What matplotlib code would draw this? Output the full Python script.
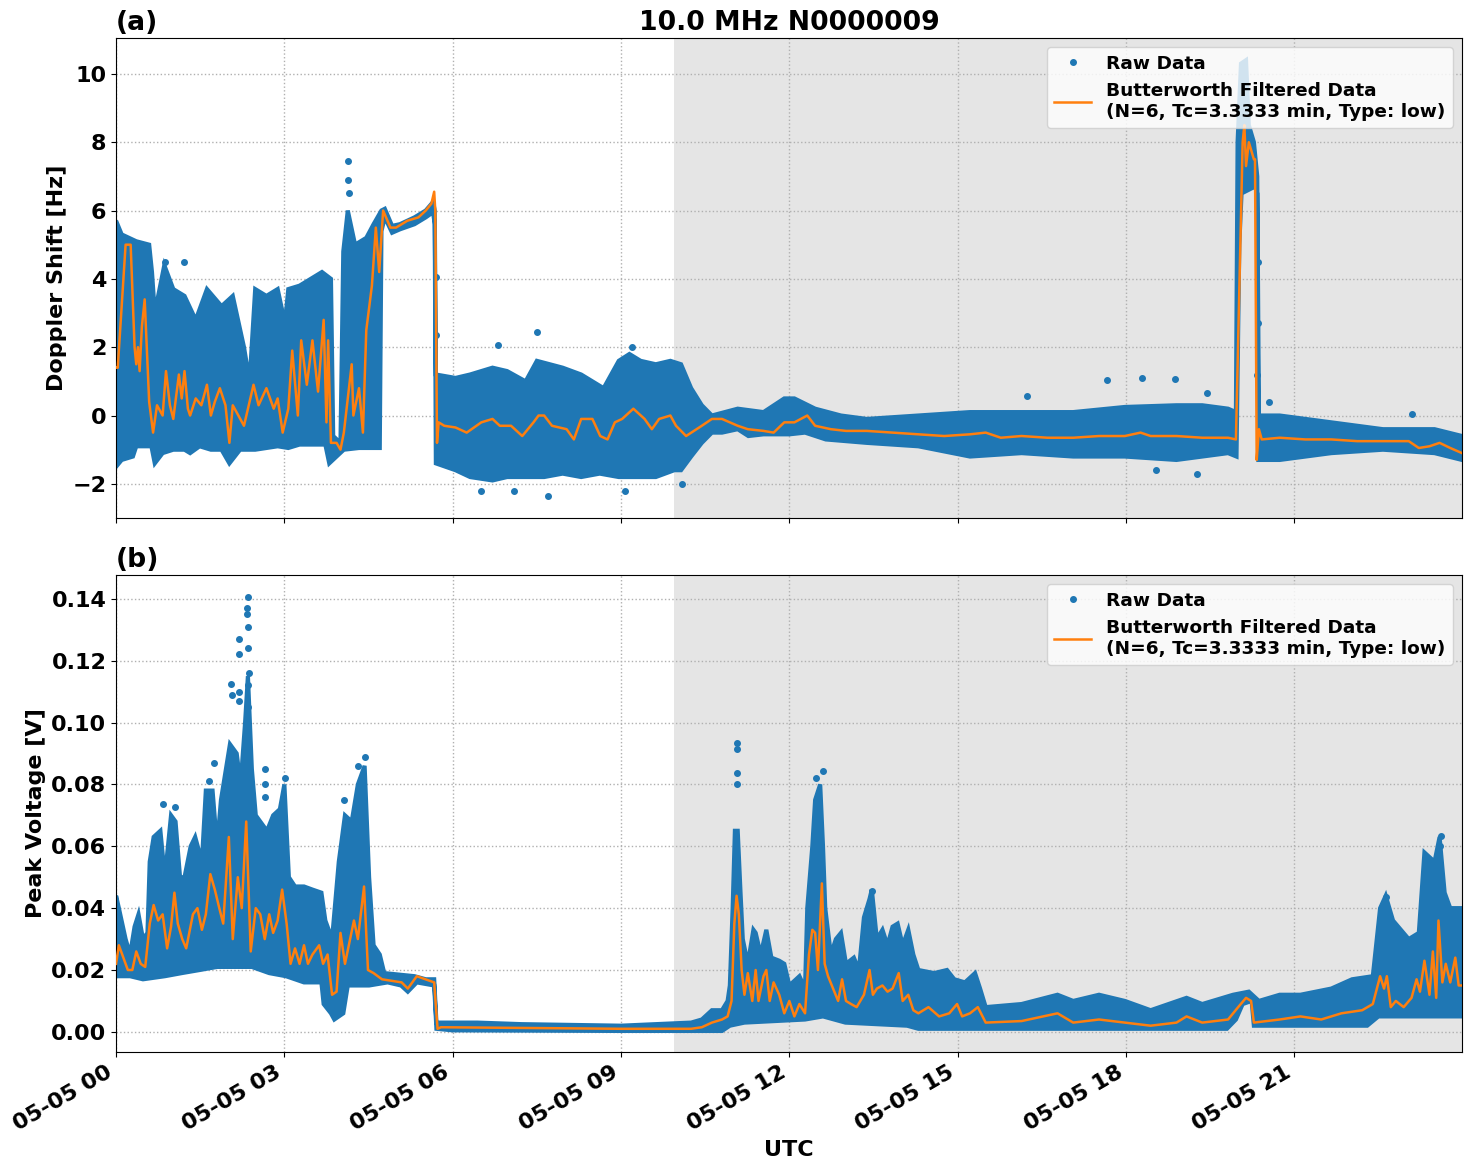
import numpy as np
import matplotlib
matplotlib.use('Agg')
from matplotlib import pyplot as plt
import matplotlib.dates as mdates
from datetime import datetime

plt.rcParams['font.size'] = 16
plt.rcParams['font.weight'] = 'bold'
plt.rcParams['axes.labelweight'] = 'bold'
plt.rcParams['axes.titleweight'] = 'bold'

# hours after 2024-05-05 00:00 UTC
# --- (a) Doppler shift [Hz] ---
dop_hi_t = [0.00, 0.10, 0.36, 0.59, 0.64, 0.69, 0.86, 1.02, 1.22, 1.42, 1.62, 1.88, 2.08, 2.28, 2.38,
            2.48, 2.68, 2.88, 3.01, 3.07, 3.27, 3.47, 3.67, 3.83, 3.87, 4.00, 4.05, 4.13, 4.26, 4.46,
            4.59, 4.73, 4.79, 4.92, 5.06, 5.32, 5.52, 5.65, 5.68, 5.70, 6.05, 6.31, 6.71, 6.97, 7.30,
            7.50, 7.96, 8.29, 8.49, 8.69, 8.96, 9.15, 9.35, 9.62, 9.88, 10.07, 10.25, 10.44, 10.62,
            11.08, 11.54, 11.91, 12.09, 12.46, 12.92, 13.38, 14.30, 15.22, 16.14, 17.06, 17.98, 18.90,
            19.36, 19.82, 19.96, 19.99, 20.05, 20.14, 20.19, 20.28, 20.34, 20.37, 20.74, 21.66, 22.58,
            23.50, 23.99]
dop_hi = [5.7, 5.3, 5.1, 5.0, 4.2, 3.0, 4.4, 3.7, 3.5, 2.8, 3.7, 3.2, 3.5, 2.0, 1.0,
          3.7, 3.5, 3.7, 2.7, 3.7, 3.8, 4.0, 4.2, 4.0, -0.6, -0.8, 4.8, 6.0, 5.0, 5.2,
          5.6, 6.0, 6.05, 5.55, 5.6, 5.8, 6.0, 6.25, 6.0, 1.2, 1.1, 1.2, 1.4, 1.3, 1.0,
          1.6, 1.4, 1.2, 1.0, 0.8, 1.6, 1.8, 1.6, 1.5, 1.6, 1.5, 0.8, 0.3, 0.0,
          0.2, 0.1, 0.5, 0.5, 0.2, 0.0, -0.1, 0.0, 0.1, 0.1, 0.1, 0.25, 0.3,
          0.3, 0.2, 0.1, 8.0, 10.3, 10.4, 8.5, 8.0, 7.0, 0.0, 0.0, -0.2, -0.4,
          -0.4, -0.6]
dop_lo_t = [0.00, 0.10, 0.30, 0.36, 0.63, 0.69, 0.83, 1.02, 1.22, 1.32, 1.49, 1.69, 1.88, 2.02, 2.21,
            2.48, 2.88, 3.07, 3.27, 3.73, 3.80, 3.93, 4.06, 4.33, 4.70, 4.73, 4.79, 4.92, 5.06, 5.32,
            5.52, 5.65, 5.68, 5.70, 6.05, 6.31, 6.71, 6.97, 7.63, 7.96, 8.29, 8.62, 8.96, 9.62, 9.95,
            10.07, 10.25, 10.44, 10.62, 10.80, 11.08, 11.27, 11.54, 12.00, 12.28, 12.65, 13.38, 14.30,
            15.22, 16.14, 17.06, 17.98, 18.90, 19.82, 19.97, 20.02, 20.06, 20.30, 20.34, 20.36, 20.74,
            21.66, 22.58, 23.50, 23.99]
dop_lo = [-1.5, -1.3, -1.2, -0.9, -0.9, -1.4, -1.1, -1.0, -1.0, -1.1, -0.9, -1.0, -1.0, -1.4, -1.0,
          -1.0, -0.9, -0.95, -0.85, -0.85, -1.4, -1.2, -1.0, -0.95, -0.95, 5.4, 5.8, 5.35, 5.45, 5.6,
          5.8, 5.95, 5.6, -1.4, -1.6, -1.8, -1.9, -1.8, -1.8, -1.7, -1.8, -1.7, -1.8, -1.8, -1.6,
          -1.6, -1.2, -0.8, -0.5, -0.5, -0.4, -0.6, -0.55, -0.55, -0.5, -0.7, -0.8, -0.9,
          -1.2, -1.1, -1.2, -1.2, -1.3, -1.1, -1.2, 5.0, 6.5, 6.7, 6.5, -1.3, -1.3,
          -1.1, -1.0, -1.1, -1.3]
dop_out_t = [4.14, 4.14, 4.15, 1.21, 0.88, 7.50, 7.70, 6.50, 7.10, 5.70, 5.70, 9.07, 6.80, 9.20,
             17.66, 18.28, 18.87, 19.45, 20.55, 23.10, 16.23, 18.53, 19.27, 10.09, 20.35, 20.35, 20.33]
dop_out = [7.45, 6.9, 6.5, 4.5, 4.5, 2.45, -2.35, -2.2, -2.2, 4.05, 2.35, -2.2, 2.05, 2.0,
           1.03, 1.1, 1.07, 0.66, 0.4, 0.03, 0.56, -1.6, -1.7, -2.0, 4.5, 2.7, 1.2]
dop_filt_t = [0.00, 0.03, 0.17, 0.26, 0.33, 0.36, 0.39, 0.42, 0.46, 0.51, 0.56, 0.59, 0.66, 0.73, 0.83,
              0.89, 0.96, 1.02, 1.12, 1.17, 1.22, 1.28, 1.32, 1.42, 1.52, 1.62, 1.69, 1.76, 1.85, 1.95,
              2.02, 2.08, 2.18, 2.28, 2.35, 2.45, 2.54, 2.68, 2.81, 2.88, 2.97, 3.07, 3.14, 3.24, 3.30,
              3.40, 3.50, 3.60, 3.70, 3.75, 3.78, 3.83, 3.93, 4.00, 4.06, 4.13, 4.20, 4.23, 4.33, 4.40,
              4.46, 4.56, 4.63, 4.69, 4.76, 4.89, 4.99, 5.19, 5.39, 5.52, 5.62, 5.67, 5.69, 5.72, 5.75,
              5.85, 6.05, 6.25, 6.51, 6.71, 6.84, 7.04, 7.24, 7.44, 7.53, 7.63, 7.77, 8.03, 8.16, 8.29,
              8.49, 8.63, 8.76, 8.89, 9.02, 9.22, 9.42, 9.55, 9.68, 9.88, 9.98, 10.16, 10.44, 10.62,
              10.80, 11.08, 11.26, 11.54, 11.72, 11.91, 12.09, 12.32, 12.46, 12.74, 13.01, 13.38, 13.84,
              14.30, 14.76, 15.22, 15.50, 15.77, 16.14, 16.60, 17.06, 17.52, 17.98, 18.26, 18.44, 18.90,
              19.36, 19.82, 19.96, 20.08, 20.11, 20.14, 20.19, 20.28, 20.30, 20.33, 20.37, 20.42, 20.74,
              21.20, 21.66, 22.12, 22.58, 23.04, 23.22, 23.41, 23.59, 23.78, 23.99]
dop_filt = [1.4, 1.4, 5.0, 5.0, 2.0, 1.5, 2.0, 1.3, 2.6, 3.4, 1.5, 0.4, -0.5, 0.3, 0.0,
            1.3, 0.3, -0.1, 1.2, 0.5, 1.3, 0.2, 0.0, 0.5, 0.3, 0.9, 0.0, 0.4, 0.8, 0.3,
            -0.8, 0.3, 0.0, -0.3, 0.2, 0.9, 0.3, 0.8, 0.2, 0.5, -0.5, 0.2, 1.9, 0.0, 2.2,
            0.9, 2.2, 0.7, 2.8, -0.2, 2.2, -0.8, -0.8, -1.0, -0.5, 0.5, 1.5, 0.0, 0.8, -0.5,
            2.5, 3.8, 5.5, 4.2, 6.0, 5.5, 5.5, 5.7, 5.8, 6.0, 6.2, 6.55, 6.0, -0.8, -0.2,
            -0.3, -0.35, -0.5, -0.2, -0.1, -0.3, -0.3, -0.6, -0.2, 0.0, 0.0, -0.3, -0.4, -0.7, -0.1,
            -0.1, -0.6, -0.7, -0.2, -0.1, 0.2, -0.1, -0.4, -0.1, 0.0, -0.3, -0.6, -0.3, -0.1,
            -0.1, -0.3, -0.4, -0.45, -0.5, -0.2, -0.2, 0.0, -0.3, -0.4, -0.45, -0.45, -0.5,
            -0.55, -0.6, -0.55, -0.5, -0.65, -0.6, -0.65, -0.65, -0.6, -0.6, -0.5, -0.6, -0.6,
            -0.65, -0.65, -0.7, 8.0, 8.5, 7.3, 8.0, 7.5, 7.5, -1.3, -0.4, -0.7, -0.65,
            -0.7, -0.7, -0.75, -0.75, -0.75, -0.95, -0.9, -0.8, -0.95, -1.1]

# --- (b) peak voltage [V] ---
vpk_hi_t = [0.00, 0.05, 0.17, 0.25, 0.33, 0.40, 0.48, 0.56, 0.60, 0.67, 0.79, 0.87, 0.98, 1.06, 1.14,
            1.22, 1.33, 1.41, 1.53, 1.60, 1.72, 1.80, 1.87, 2.03, 2.15, 2.22, 2.30, 2.35, 2.42, 2.49,
            2.57, 2.69, 2.80, 2.92, 3.00, 3.08, 3.19, 3.35, 3.50, 3.66, 3.73, 3.85, 3.97, 4.08, 4.20,
            4.31, 4.43, 4.51, 4.59, 4.70, 4.78, 5.32, 5.52, 5.67, 5.71, 6.44, 7.22, 9.00, 10.25, 10.44,
            10.62, 10.80, 10.90, 10.94, 10.99, 11.03, 11.08, 11.13, 11.17, 11.26, 11.36, 11.40, 11.49,
            11.59, 11.68, 11.82, 11.91, 12.00, 12.18, 12.28, 12.32, 12.41, 12.46, 12.55, 12.60, 12.64,
            12.74, 12.83, 12.92, 13.01, 13.15, 13.24, 13.33, 13.43, 13.47, 13.56, 13.66, 13.75, 13.84,
            13.93, 14.02, 14.12, 14.21, 14.30, 14.58, 14.81, 14.94, 15.13, 15.31, 15.40, 15.50, 16.14,
            16.78, 17.06, 17.52, 17.98, 18.44, 19.08, 19.36, 19.91, 20.19, 20.37, 20.74, 21.11, 21.66,
            22.03, 22.40, 22.53, 22.63, 22.76, 23.04, 23.22, 23.32, 23.50, 23.59, 23.68, 23.78, 23.99]
vpk_hi = [0.044, 0.040, 0.030, 0.025, 0.034, 0.038, 0.030, 0.032, 0.055, 0.063, 0.065, 0.050, 0.070, 0.068, 0.050,
          0.050, 0.060, 0.063, 0.055, 0.078, 0.078, 0.060, 0.075, 0.093, 0.090, 0.080, 0.100, 0.115, 0.085, 0.070,
          0.068, 0.065, 0.070, 0.072, 0.080, 0.050, 0.047, 0.047, 0.046, 0.045, 0.036, 0.030, 0.055, 0.070, 0.068,
          0.080, 0.086, 0.050, 0.028, 0.025, 0.019, 0.018, 0.017, 0.017, 0.003, 0.003, 0.0025, 0.002, 0.003, 0.004,
          0.007, 0.007, 0.010, 0.015, 0.040, 0.065, 0.065, 0.045, 0.030, 0.022, 0.033, 0.032, 0.025,
          0.033, 0.024, 0.023, 0.022, 0.015, 0.018, 0.014, 0.040, 0.060, 0.075, 0.080, 0.060, 0.040,
          0.025, 0.030, 0.032, 0.022, 0.024, 0.020, 0.037, 0.043, 0.046, 0.030, 0.033, 0.028, 0.034,
          0.035, 0.028, 0.033, 0.025, 0.020, 0.019, 0.020, 0.017, 0.016, 0.019, 0.014, 0.008, 0.009,
          0.012, 0.010, 0.012, 0.010, 0.007, 0.011, 0.009, 0.012, 0.013, 0.010, 0.012, 0.012, 0.014,
          0.017, 0.018, 0.040, 0.044, 0.036, 0.030, 0.032, 0.058, 0.055, 0.063, 0.045, 0.040, 0.040]
vpk_lo_t = [0.00, 0.25, 0.48, 0.87, 1.17, 1.49, 1.80, 2.42, 2.73, 3.03, 3.35, 3.66, 3.70, 3.83, 3.89,
            4.05, 4.13, 4.51, 4.84, 5.08, 5.20, 5.36, 5.67, 5.71, 6.00, 9.00, 10.80, 10.94, 11.20, 12.28,
            12.60, 13.00, 14.10, 14.30, 19.80, 19.96, 20.08, 20.24, 20.28, 22.30, 22.50, 23.99]
vpk_lo = [0.018, 0.018, 0.017, 0.018, 0.019, 0.020, 0.021, 0.021, 0.019, 0.018, 0.016, 0.016, 0.009, 0.006, 0.004,
          0.006, 0.015, 0.015, 0.016, 0.015, 0.013, 0.016, 0.015, 0.001, 0.0005, 0.0003, 0.0003, 0.002, 0.003, 0.004,
          0.005, 0.003, 0.002, 0.001, 0.001, 0.004, 0.009, 0.010, 0.002, 0.002, 0.005, 0.005]
vpk_out_t = [2.355, 2.34, 2.34, 2.36, 2.36, 2.37, 2.19, 2.20, 2.05, 2.06, 2.20, 2.20, 2.36, 2.36, 2.66,
             2.66, 2.66, 3.01, 1.75, 1.665, 0.83, 1.05, 4.43, 4.31, 4.07, 11.06, 11.06, 11.06, 11.06,
             12.60, 12.48, 13.47, 22.63, 23.61, 23.60, 23.36]
vpk_out = [0.1406, 0.137, 0.135, 0.131, 0.124, 0.116, 0.127, 0.122, 0.1126, 0.109, 0.110, 0.107, 0.112, 0.105, 0.085,
           0.080, 0.076, 0.082, 0.087, 0.081, 0.0737, 0.0726, 0.0887, 0.086, 0.075, 0.0935, 0.0914, 0.0837, 0.080,
           0.0844, 0.082, 0.0457, 0.0435, 0.0634, 0.060, 0.056]
vpk_filt_t = [0.00, 0.05, 0.13, 0.21, 0.29, 0.36, 0.44, 0.52, 0.60, 0.67, 0.75, 0.83, 0.91, 0.98, 1.04,
              1.10, 1.18, 1.25, 1.37, 1.45, 1.53, 1.60, 1.68, 1.76, 1.84, 1.91, 2.01, 2.08, 2.17, 2.24,
              2.32, 2.40, 2.49, 2.57, 2.65, 2.73, 2.80, 2.88, 2.96, 3.04, 3.11, 3.19, 3.27, 3.35, 3.42,
              3.50, 3.62, 3.69, 3.77, 3.85, 3.93, 4.00, 4.08, 4.16, 4.24, 4.31, 4.42, 4.49, 4.59, 4.74,
              5.09, 5.20, 5.36, 5.67, 5.73, 5.79, 9.00, 9.70, 10.25, 10.44, 10.62, 10.80, 10.90, 10.97,
              11.02, 11.06, 11.10, 11.15, 11.20, 11.26, 11.34, 11.40, 11.45, 11.54, 11.59, 11.65, 11.72,
              11.82, 11.91, 12.00, 12.09, 12.18, 12.28, 12.35, 12.41, 12.46, 12.51, 12.58, 12.63, 12.69,
              12.78, 12.87, 12.94, 13.01, 13.10, 13.20, 13.33, 13.43, 13.49, 13.56, 13.66, 13.75, 13.84,
              13.95, 14.02, 14.12, 14.21, 14.30, 14.48, 14.67, 14.85, 14.99, 15.08, 15.22, 15.36, 15.50,
              16.14, 16.78, 17.06, 17.52, 17.98, 18.44, 18.90, 19.08, 19.36, 19.82, 20.00, 20.14, 20.23,
              20.28, 20.74, 21.11, 21.48, 21.84, 22.21, 22.40, 22.53, 22.60, 22.65, 22.72, 22.81, 22.95,
              23.09, 23.18, 23.24, 23.32, 23.41, 23.47, 23.53, 23.57, 23.64, 23.70, 23.78, 23.87, 23.93,
              23.99]
vpk_filt = [0.022, 0.028, 0.024, 0.020, 0.020, 0.026, 0.022, 0.021, 0.035, 0.041, 0.036, 0.038, 0.027, 0.034, 0.045,
            0.035, 0.030, 0.027, 0.038, 0.040, 0.033, 0.038, 0.051, 0.046, 0.040, 0.035, 0.063, 0.030, 0.050, 0.040,
            0.068, 0.026, 0.040, 0.038, 0.030, 0.038, 0.032, 0.036, 0.046, 0.035, 0.022, 0.027, 0.022, 0.028, 0.022,
            0.025, 0.028, 0.022, 0.025, 0.012, 0.013, 0.032, 0.022, 0.029, 0.036, 0.030, 0.047, 0.020, 0.019, 0.017,
            0.016, 0.014, 0.018, 0.016, 0.001, 0.0015, 0.001, 0.001, 0.001, 0.0015, 0.003, 0.004, 0.005, 0.010,
            0.035, 0.044, 0.038, 0.020, 0.012, 0.019, 0.010, 0.020, 0.010, 0.018, 0.020, 0.010, 0.016,
            0.012, 0.006, 0.010, 0.005, 0.009, 0.006, 0.025, 0.033, 0.032, 0.020, 0.048, 0.022, 0.018,
            0.014, 0.010, 0.017, 0.010, 0.009, 0.008, 0.012, 0.020, 0.012, 0.014, 0.015, 0.013, 0.014,
            0.019, 0.010, 0.012, 0.007, 0.006, 0.008, 0.005, 0.006, 0.009, 0.005, 0.006, 0.008, 0.003,
            0.0035, 0.006, 0.003, 0.004, 0.003, 0.002, 0.003, 0.005, 0.003, 0.004, 0.008, 0.011, 0.010,
            0.003, 0.004, 0.005, 0.004, 0.006, 0.007, 0.009, 0.018, 0.014, 0.018, 0.008, 0.010, 0.008,
            0.011, 0.017, 0.013, 0.023, 0.012, 0.026, 0.011, 0.036, 0.016, 0.022, 0.016, 0.024, 0.015,
            0.015]

night_start = 9.94  # shaded interval start [h]
t_end = 23.99

t0 = mdates.date2num(datetime(2024, 5, 5))


def tnum(h):
    return t0 + np.asarray(h) / 24.0


filt_label = 'Butterworth Filtered Data\n(N=6, Tc=3.3333 min, Type: low)'

fig = plt.figure(figsize=(14.71, 11.72), dpi=100)
ax1 = fig.add_axes([0.0789, 0.558, 0.915, 0.4096])
ax2 = fig.add_axes([0.0789, 0.1024, 0.915, 0.407], sharex=ax1)

panels = [
    (ax1, dop_hi_t, dop_hi, dop_lo_t, dop_lo, dop_out_t, dop_out, dop_filt_t, dop_filt),
    (ax2, vpk_hi_t, vpk_hi, vpk_lo_t, vpk_lo, vpk_out_t, vpk_out, vpk_filt_t, vpk_filt),
]
for ax, ht, hi, lt, lo, ot, ov, ft, fv in panels:
    # dense cloud of raw samples -> envelope polygon
    px = np.concatenate([tnum(ht), tnum(lt)[::-1]])
    py = np.concatenate([hi, lo[::-1]])
    ax.fill(px, py, facecolor='C0', edgecolor='C0', lw=3, zorder=2)
    ax.plot(tnum(ot), ov, '.', color='C0', ms=8, label='Raw Data', zorder=2)
    ax.plot(tnum(ft), fv, color='C1', lw=1.8, label=filt_label, zorder=3)
    ax.axvspan(tnum(night_start), tnum(t_end), color='grey', alpha=0.2, lw=0, zorder=0)
    ax.grid(True, linestyle=':', color='#b0b0b0', lw=1)
    ax.set_axisbelow(True)
    ax.legend(loc='upper right', fontsize=13.3)

ax1.set_xlim(tnum(0), tnum(t_end))
ax1.set_ylim(-3.0, 11.05)
ax2.set_ylim(-0.0065, 0.1477)
ax1.set_yticks([-2, 0, 2, 4, 6, 8, 10])
ax1.set_yticklabels(['\u22122', '0', '2', '4', '6', '8', '10'])

ax2.xaxis.set_major_locator(mdates.HourLocator(byhour=range(0, 24, 3)))
ax2.xaxis.set_major_formatter(mdates.DateFormatter('%m-%d %H'))
plt.setp(ax1.get_xticklabels(), visible=False)
for lab in ax2.get_xticklabels():
    lab.set_rotation(30)
    lab.set_ha('right')

ax1.set_title('10.0 MHz N0000009', fontsize=19.2)
ax1.set_title('(a)', loc='left', fontsize=19.2)
ax2.set_title('(b)', loc='left', fontsize=19.2)
ax1.set_ylabel('Doppler Shift [Hz]')
ax2.set_ylabel('Peak Voltage [V]')
ax2.set_xlabel('UTC')

fig.savefig('out.png', dpi=100)
